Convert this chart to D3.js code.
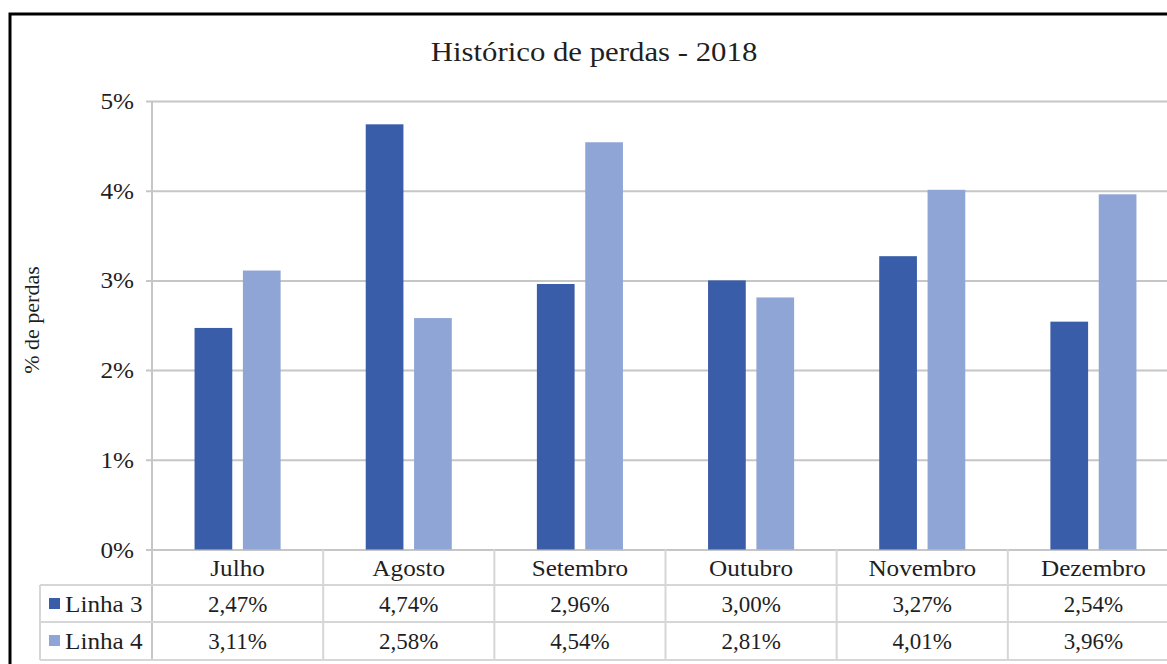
<!DOCTYPE html>
<html>
<head>
<meta charset="utf-8">
<script src="https://cdn.jsdelivr.net/npm/d3@7"></script>
<style>
  body { margin: 0; background: #fff; }
  svg text { font-family: "Liberation Serif", "Times New Roman", serif; fill: #1f1f1f; }
</style>
</head>
<body>
<div id="chart"></div>
<script>
// Chart data
var months = ["Julho", "Agosto", "Setembro", "Outubro", "Novembro", "Dezembro"];
var seriesNames = ["Linha 3", "Linha 4"];
var linha3 = [2.47, 4.74, 2.96, 3.00, 3.27, 2.54];
var linha4 = [3.11, 2.58, 4.54, 2.81, 4.01, 3.96];
var yTicks = [0, 1, 2, 3, 4, 5];
var titleText = "Histórico de perdas - 2018";
var yLabel = "% de perdas";

var seriesValues = [linha3, linha4];
var colors = ["#3A5DA9", "#8FA5D6"];

var fullWidth = 1167, fullHeight = 664;
var stretch = 1.05; // text in the picture looks a bit wide

var svg = d3.select("#chart").append("svg")
    .attr("width", fullWidth)
    .attr("height", fullHeight);

// Scales
var x0 = d3.scaleBand().domain(months).range([152, 1179]);
var x1 = d3.scaleBand().domain(seriesNames).range([0, x0.bandwidth()])
    .paddingInner(0.22).paddingOuter(0.88);
var y = d3.scaleLinear().domain([0, 5]).range([549.5, 101]);

// helper for slightly stretched text
function addText(g, tx, ty, str, size, anchor, sx) {
    return g.append("text")
        .attr("transform", "translate(" + tx + "," + ty + ") scale(" + (sx || stretch) + ",1)")
        .attr("text-anchor", anchor || "middle")
        .style("font-size", size + "px")
        .text(str);
}

// Gridlines
svg.append("g")
    .attr("transform", "translate(152,0)")
    .call(d3.axisLeft(y).tickValues(yTicks).tickSize(6).tickFormat(""))
    .call(g => g.select(".domain").remove())
    .call(g => g.selectAll(".tick line").attr("stroke", "#c6c6c6").attr("stroke-width", 2).attr("x2", fullWidth))
    .call(g => g.selectAll(".tick line").attr("x1", -6));

// Y axis line
svg.append("line")
    .attr("x1", 152).attr("x2", 152)
    .attr("y1", y(5)).attr("y2", 660)
    .attr("stroke", "#c6c6c6").attr("stroke-width", 2);

// Y tick labels
yTicks.forEach(function(t) {
    addText(svg, 134, y(t) + 8, t + "%", 24, "end");
});

// Bars
var groups = svg.append("g").selectAll("g")
    .data(months)
    .enter().append("g")
    .attr("transform", d => "translate(" + x0(d) + ",0)");

groups.selectAll("rect")
    .data((m, i) => seriesNames.map((s, j) => ({ s: s, v: seriesValues[j][i], c: colors[j] })))
    .enter().append("rect")
    .attr("x", d => x1(d.s))
    .attr("width", x1.bandwidth())
    .attr("y", d => y(d.v))
    .attr("height", d => y(0) - y(d.v))
    .attr("fill", d => d.c);

// Data table
var tableColor = "#d6d6d6";
var rowLines = [585, 622, 660];
rowLines.forEach(function(ry) {
    svg.append("line")
        .attr("x1", 40).attr("x2", fullWidth)
        .attr("y1", ry).attr("y2", ry)
        .attr("stroke", tableColor).attr("stroke-width", 2);
});
svg.append("line")
    .attr("x1", 40).attr("x2", 40).attr("y1", 585).attr("y2", 660)
    .attr("stroke", tableColor).attr("stroke-width", 2);
months.forEach(function(m, i) {
    if (i > 0) {
        svg.append("line")
            .attr("x1", x0(m)).attr("x2", x0(m)).attr("y1", 549.5).attr("y2", 660)
            .attr("stroke", tableColor).attr("stroke-width", 2);
    }
    var cx = x0(m) + x0.bandwidth() / 2;
    addText(svg, cx, 576, m, 24);
    seriesValues.forEach(function(vals, j) {
        addText(svg, cx, 612 + j * 37, vals[i].toFixed(2).replace(".", ",") + "%", 23, "middle", 1.0);
    });
});

// Legend keys in the table
seriesNames.forEach(function(s, j) {
    svg.append("rect")
        .attr("x", 49).attr("y", 598 + j * 37)
        .attr("width", 11).attr("height", 11)
        .attr("fill", colors[j]);
    addText(svg, 65, 612 + j * 37, s, 24, "start");
});

// Title
addText(svg, 594, 61, titleText, 28, "middle", 1.1);

// Y axis label
svg.append("text")
    .attr("transform", "translate(39,320) rotate(-90)")
    .attr("text-anchor", "middle")
    .style("font-size", "22px")
    .text(yLabel);

// Outer border
svg.append("rect")
    .attr("x", 10).attr("y", 14)
    .attr("width", 1300).attr("height", 800)
    .attr("fill", "none")
    .attr("stroke", "#000").attr("stroke-width", 3);
</script>
</body>
</html>
